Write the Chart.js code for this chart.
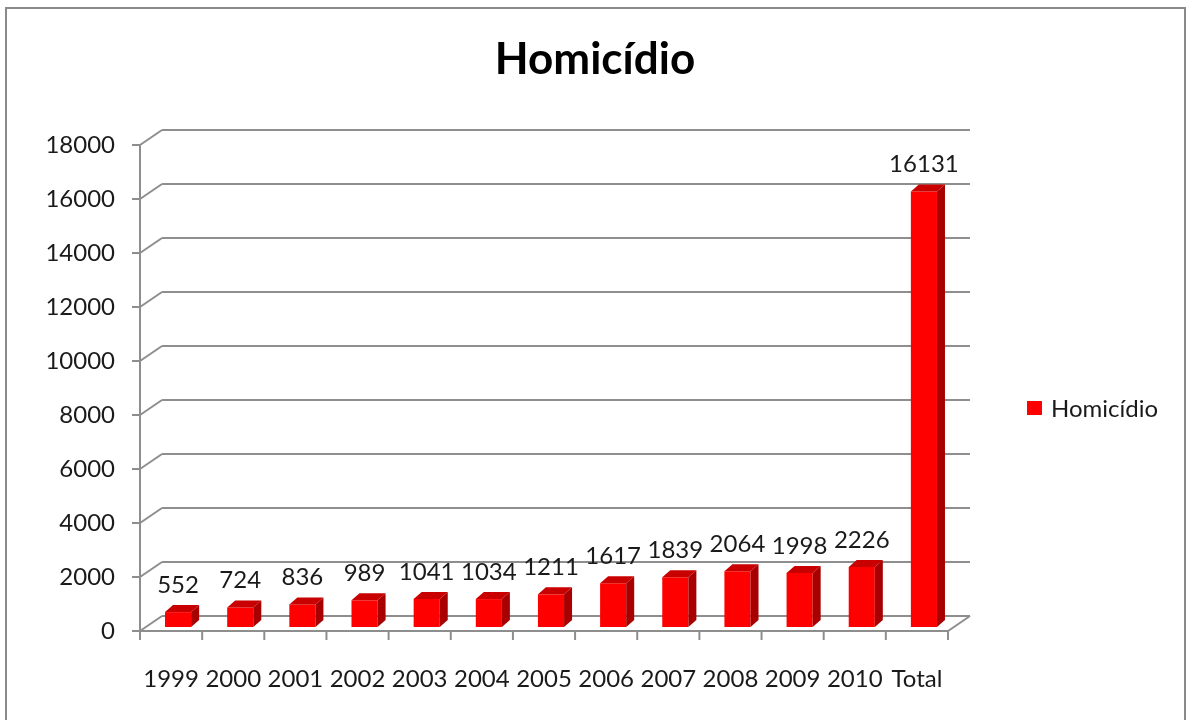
<!DOCTYPE html>
<html>
<head>
<meta charset="utf-8">
<title>Homicídio</title>
<script src="https://cdn.jsdelivr.net/npm/chart.js@4.4.0/dist/chart.umd.min.js"></script>
<style>
  html, body { margin: 0; padding: 0; background: #fff; }
  #wrap { width: 1187px; height: 720px; }
</style>
</head>
<body>
<div id="wrap"><canvas id="chart" width="1187" height="720"></canvas></div>
<script>
// data
const categories = ["1999", "2000", "2001", "2002", "2003", "2004", "2005", "2006", "2007", "2008", "2009", "2010", "Total"];
const homicidios = [552, 724, 836, 989, 1041, 1034, 1211, 1617, 1839, 2064, 1998, 2226, 16131];
const yTicks = [0, 2000, 4000, 6000, 8000, 10000, 12000, 14000, 16000, 18000];
const seriesName = "Homicídio";
const chartTitle = "Homicídio";

const FONT = "Lato, 'Open Sans', sans-serif";
const GRID = "#8e8e8e";
const TEXT = "#1a1a1a";
// fake 3d offsets, relative to the plane the bars stand in
const front = { dx: -7, dy: 4 };
const back = { dx: 15, dy: -11 };
const depth = { dx: 8, dy: -7 };

const wall3d = {
  id: "wall3d",
  beforeDatasetsDraw(chart) {
    const c = chart.ctx;
    const area = chart.chartArea;
    const y = chart.scales.y;

    c.save();
    // outer frame
    c.strokeStyle = "#8a8a8a";
    c.lineWidth = 2;
    c.strokeRect(6, 8, 1179, 800);

    // title (centred on the whole canvas, not the plot)
    c.fillStyle = "#000";
    c.font = "bold 44px " + FONT;
    c.textAlign = "center";
    c.textBaseline = "middle";
    c.fillText(chartTitle, 595, 60);

    c.strokeStyle = GRID;
    c.lineWidth = 2;
    const fx = area.left + front.dx;
    const bx = area.left + back.dx;
    yTicks.forEach(v => {
      const py = y.getPixelForValue(v);
      // back wall line
      c.beginPath();
      c.moveTo(bx, py + back.dy);
      c.lineTo(area.right + back.dx, py + back.dy);
      c.stroke();
      // side wall diagonal
      c.beginPath();
      c.moveTo(fx, py + front.dy);
      c.lineTo(bx, py + back.dy);
      c.stroke();
      // tick
      c.beginPath();
      c.moveTo(fx - 8, py + front.dy);
      c.lineTo(fx, py + front.dy);
      c.stroke();
    });
    // front vertical axis
    c.beginPath();
    c.moveTo(fx, y.getPixelForValue(18000) + front.dy);
    c.lineTo(fx, y.getPixelForValue(0) + front.dy + 9);
    c.stroke();

    // y labels
    c.fillStyle = TEXT;
    c.font = "24px " + FONT;
    c.textAlign = "right";
    c.textBaseline = "middle";
    yTicks.forEach(v => {
      c.fillText(String(v), fx - 25, y.getPixelForValue(v) + front.dy);
    });
    c.restore();
  },
  afterDatasetsDraw(chart) {
    const c = chart.ctx;
    const area = chart.chartArea;
    const x = chart.scales.x;
    const y = chart.scales.y;
    const meta = chart.getDatasetMeta(0);

    c.save();
    // bar tops and sides
    meta.data.forEach(bar => {
      const w = bar.width;
      const l = bar.x - w / 2;
      const r = bar.x + w / 2;
      c.fillStyle = "#c80000";
      c.beginPath();
      c.moveTo(l, bar.y);
      c.lineTo(l + depth.dx, bar.y + depth.dy);
      c.lineTo(r + depth.dx, bar.y + depth.dy);
      c.lineTo(r, bar.y);
      c.closePath();
      c.fill();
      c.fillStyle = "#a80000";
      c.beginPath();
      c.moveTo(r, bar.y);
      c.lineTo(r + depth.dx, bar.y + depth.dy);
      c.lineTo(r + depth.dx, bar.base + depth.dy);
      c.lineTo(r, bar.base);
      c.closePath();
      c.fill();
    });

    // floor front edge
    const y0 = y.getPixelForValue(0);
    c.strokeStyle = GRID;
    c.lineWidth = 2;
    c.beginPath();
    c.moveTo(area.left + front.dx, y0 + front.dy);
    c.lineTo(area.right + front.dx, y0 + front.dy);
    c.lineTo(area.right + back.dx, y0 + back.dy);
    c.stroke();
    const band = (area.right - area.left) / categories.length;
    for (let i = 0; i <= categories.length; i++) {
      const px = area.left + i * band + front.dx;
      c.beginPath();
      c.moveTo(px, y0 + front.dy);
      c.lineTo(px, y0 + front.dy + 9);
      c.stroke();
    }

    // category labels
    c.fillStyle = TEXT;
    c.font = "24px " + FONT;
    c.textAlign = "center";
    c.textBaseline = "middle";
    categories.forEach((cat, i) => {
      c.fillText(cat, x.getPixelForValue(i) + front.dx, 679);
    });

    // value labels
    meta.data.forEach((bar, i) => {
      c.fillText(String(homicidios[i]), bar.x, bar.y - 27);
    });

    // legend
    c.fillStyle = "#ff0000";
    c.fillRect(1027, 401, 15, 14);
    c.fillStyle = TEXT;
    c.textAlign = "left";
    c.fillText(seriesName, 1051, 409);
    c.restore();
  }
};

new Chart(document.getElementById("chart"), {
  type: "bar",
  data: {
    labels: categories,
    datasets: [{
      label: seriesName,
      data: homicidios,
      backgroundColor: "#ff0000",
      borderWidth: 0,
      categoryPercentage: 1,
      barPercentage: 0.42
    }]
  },
  options: {
    responsive: false,
    animation: false,
    layout: {
      padding: { left: 147, right: 232, top: 141, bottom: 93 }
    },
    plugins: {
      title: { display: false },
      legend: { display: false },
      tooltip: { enabled: false }
    },
    scales: {
      x: { display: false },
      y: { display: false, min: 0, max: 18000 }
    }
  },
  plugins: [wall3d]
});
</script>
</body>
</html>
